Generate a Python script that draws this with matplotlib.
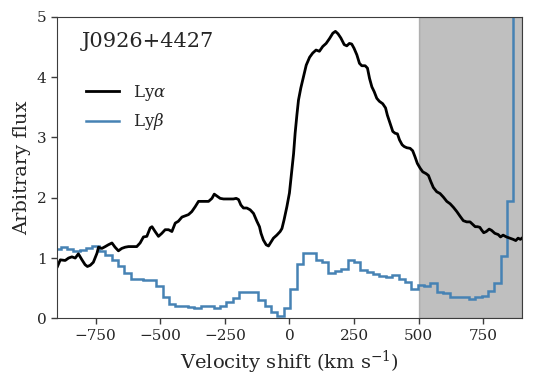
"""Lyman alpha and Lyman beta velocity profiles of J0926+4427."""

import matplotlib

matplotlib.use("Agg")
import matplotlib.pyplot as plt

# Lyα profile (velocity in km/s, arbitrary flux).
lya_velocity = [
    -898, -887, -868, -855, -842, -829, -817, -803, -791, -782, -771, -759,
    -745, -739, -726, -713, -701, -687, -675, -662, -649, -636, -623, -610,
    -591, -578, -565, -552, -539, -532, -520, -507, -494, -481, -468, -455,
    -442, -430, -416, -404, -391, -378, -365, -352, -339, -326, -313, -300,
    -291, -281, -268, -255, -242, -230, -217, -206, -197, -188, -178, -165,
    -152, -139, -126, -116, -110, -101, -90, -81, -72, -62, -49, -36,
    -29, -21, -10, 0, 9, 16, 22, 29, 35, 44, 55, 65,
    78, 90, 103, 116, 129, 142, 155, 168, 178, 188, 199, 212,
    222, 232, 241, 250, 261, 271, 280, 293, 302, 310, 319, 328,
    338, 348, 361, 372, 379, 390, 400, 409, 418, 426, 436, 444,
    454, 467, 477, 486, 495, 506, 516, 529, 538, 547, 557, 570,
    583, 596, 609, 622, 635, 648, 661, 673, 686, 699, 709, 719,
    728, 737, 743, 752, 762, 773, 782, 795, 808, 817, 827, 840,
    853, 866, 876, 885, 894, 900,
]
lya_flux = [
    0.86, 0.97, 0.96, 1.00, 1.02, 1.00, 1.07, 0.97, 0.89, 0.86, 0.88, 0.93,
    1.08, 1.18, 1.16, 1.19, 1.22, 1.25, 1.18, 1.12, 1.16, 1.18, 1.19, 1.19,
    1.19, 1.25, 1.35, 1.36, 1.50, 1.52, 1.44, 1.36, 1.41, 1.47, 1.47, 1.44,
    1.58, 1.61, 1.68, 1.70, 1.72, 1.77, 1.85, 1.94, 1.94, 1.94, 1.94, 1.99,
    2.06, 2.03, 1.99, 1.98, 1.98, 1.98, 1.98, 1.99, 1.97, 1.88, 1.83, 1.83,
    1.80, 1.74, 1.61, 1.52, 1.41, 1.30, 1.22, 1.20, 1.26, 1.33, 1.38, 1.44,
    1.49, 1.63, 1.85, 2.08, 2.45, 2.73, 3.07, 3.38, 3.62, 3.82, 4.02, 4.20,
    4.33, 4.40, 4.45, 4.43, 4.51, 4.56, 4.64, 4.73, 4.76, 4.72, 4.65, 4.54,
    4.52, 4.56, 4.55, 4.48, 4.37, 4.23, 4.19, 4.19, 4.15, 3.98, 3.84, 3.76,
    3.65, 3.60, 3.56, 3.49, 3.37, 3.23, 3.10, 3.07, 3.06, 2.96, 2.88, 2.85,
    2.83, 2.82, 2.78, 2.68, 2.57, 2.49, 2.43, 2.40, 2.37, 2.27, 2.17, 2.10,
    2.07, 2.01, 1.94, 1.90, 1.84, 1.77, 1.69, 1.62, 1.60, 1.60, 1.56, 1.52,
    1.52, 1.51, 1.47, 1.42, 1.44, 1.48, 1.46, 1.41, 1.39, 1.35, 1.38, 1.35,
    1.33, 1.31, 1.29, 1.33, 1.31, 1.33,
]

# Lyβ binned spectrum: bin edges (km/s) and one flux value per bin.
lyb_edges = [
    -910.8, -886.1, -861.4, -836.7, -812.0, -787.4, -762.7, -738.0, -713.3,
    -688.6, -663.9, -639.2, -614.5, -589.8, -565.1, -540.4, -515.7, -491.0,
    -466.4, -441.7, -417.0, -392.3, -367.6, -342.9, -318.2, -293.5, -268.8,
    -244.1, -219.4, -194.7, -170.0, -145.4, -120.7, -96.0, -71.3, -46.6,
    -21.9, 2.7, 27.4, 52.1, 76.8, 101.5, 126.2, 150.9, 175.6,
    200.3, 225.0, 249.6, 274.3, 299.0, 323.7, 348.4, 373.1, 397.8,
    422.5, 447.2, 471.9, 496.6, 521.3, 545.9, 570.6, 595.3, 620.0,
    644.7, 669.4, 694.1, 718.8, 743.5, 768.2, 792.9, 817.6, 842.3,
    866.9, 891.6, 916.3,
]
lyb_flux = [
    1.15, 1.18, 1.15, 1.11, 1.13, 1.16, 1.20, 1.11, 1.05, 0.97, 0.86, 0.75,
    0.65, 0.65, 0.63, 0.63, 0.53, 0.36, 0.24, 0.21, 0.20, 0.18, 0.17, 0.20,
    0.21, 0.17, 0.20, 0.27, 0.33, 0.43, 0.43, 0.44, 0.31, 0.20, 0.11, 0.04,
    0.17, 0.49, 0.90, 1.09, 1.09, 0.96, 0.93, 0.75, 0.79, 0.82, 0.96, 0.93,
    0.80, 0.77, 0.74, 0.70, 0.68, 0.72, 0.65, 0.61, 0.49, 0.55, 0.53, 0.58,
    0.44, 0.42, 0.36, 0.36, 0.36, 0.32, 0.35, 0.37, 0.46, 0.59, 1.04, 1.95,
    8.0, 9.0,
]

masked_range = (500, 900)
x_ticks = [-750, -500, -250, 0, 250, 500, 750]
object_name = "J0926+4427"

_INK = "#262626"
_SPINE = "#3c3c3c"

plt.rcParams["font.family"] = "DejaVu Serif"
plt.rcParams["mathtext.fontset"] = "dejavuserif"

fig = plt.figure(figsize=(5.37, 3.84), dpi=100)
ax = fig.add_axes([0.106, 0.171, 0.866, 0.785])

ax.axvspan(*masked_range, color="0.5", alpha=0.5, linewidth=1, zorder=0)
ax.plot(lya_velocity, lya_flux, color="black", linewidth=2.0, label=r"Ly$\alpha$")
ax.stairs(
    lyb_flux, lyb_edges, baseline=None, color="steelblue", linewidth=1.8,
    label=r"Ly$\beta$",
)

ax.set_xlim(-900, 900)
ax.set_ylim(0, 5)
ax.set_xticks(x_ticks)
ax.set_yticks(range(6))
ax.tick_params(direction="out", length=4, width=1, colors=_SPINE,
               labelcolor=_INK, labelsize=11)
for spine in ax.spines.values():
    spine.set_color(_SPINE)

ax.set_xlabel(r"Velocity shift (km s$^{-1}$)", fontsize=14, color=_INK)
ax.set_ylabel("Arbitrary flux", fontsize=14, color=_INK)
ax.text(0.054, 0.92, object_name, transform=ax.transAxes, fontsize=15,
        color=_INK, va="center", ha="left")
ax.legend(loc="upper left", bbox_to_anchor=(0.03, 0.83), frameon=False,
          fontsize=12, handlelength=2.0, labelcolor=_INK)

fig.savefig("out.png", dpi=100, facecolor="white")
